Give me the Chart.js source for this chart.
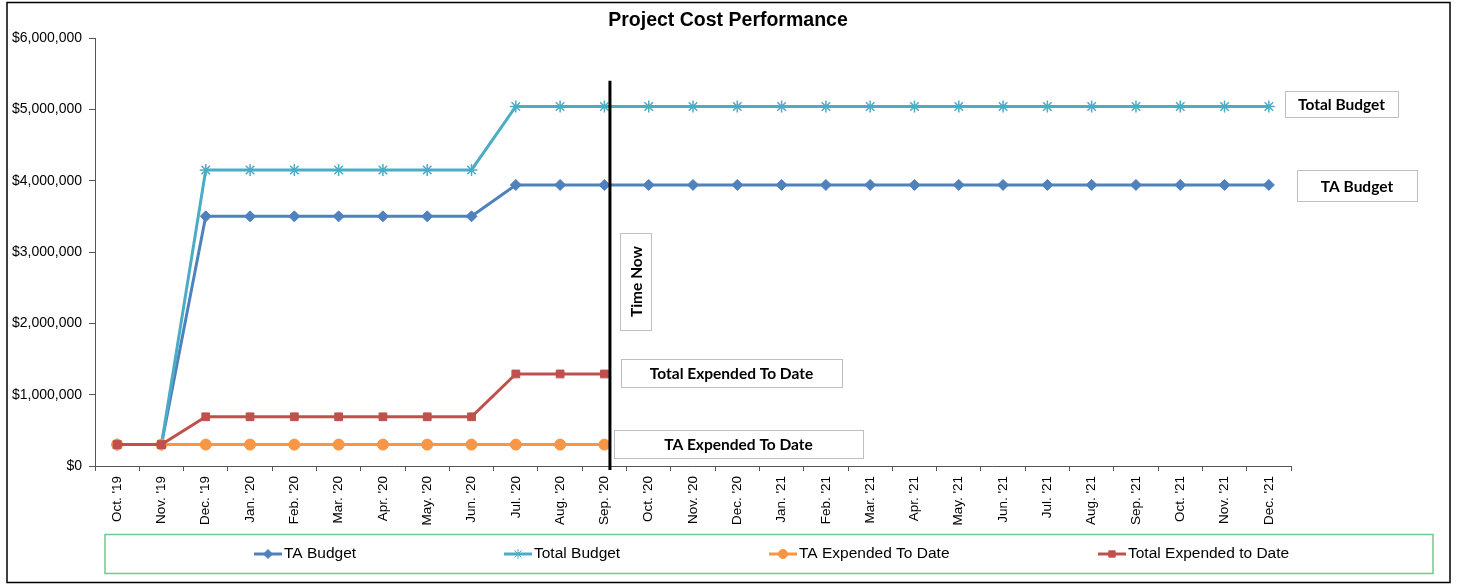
<!DOCTYPE html>
<html><head><meta charset="utf-8">
<script src="https://cdn.jsdelivr.net/npm/chart.js@4.4.1/dist/chart.umd.min.js"></script>
<style>html,body{margin:0;padding:0;background:#fff;}#wrap{width:1458px;height:584px;position:relative;}</style>
</head><body><div id="wrap"><canvas id="c" width="1458" height="584"></canvas></div>
<script>
// ---------- DATA ----------
const chartTitle = 'Project Cost Performance';
const categories = ["Oct. '19","Nov. '19","Dec. '19","Jan. '20","Feb. '20","Mar. '20","Apr. '20","May. '20","Jun. '20","Jul. '20","Aug. '20","Sep. '20","Oct. '20","Nov. '20","Dec. '20","Jan. '21","Feb. '21","Mar. '21","Apr. '21","May. '21","Jun. '21","Jul. '21","Aug. '21","Sep. '21","Oct. '21","Nov. '21","Dec. '21"];
const seriesNames = ['TA Budget','Total Budget','TA Expended To Date','Total Expended to Date'];
const taBudget = [300000,300000,3500000,3500000,3500000,3500000,3500000,3500000,3500000,3940000,3940000,3940000,3940000,3940000,3940000,3940000,3940000,3940000,3940000,3940000,3940000,3940000,3940000,3940000,3940000,3940000,3940000];
const totalBudget = [300000,300000,4150000,4150000,4150000,4150000,4150000,4150000,4150000,5040000,5040000,5040000,5040000,5040000,5040000,5040000,5040000,5040000,5040000,5040000,5040000,5040000,5040000,5040000,5040000,5040000,5040000];
const taExpended = [300000,300000,300000,300000,300000,300000,300000,300000,300000,300000,300000,300000,null,null,null,null,null,null,null,null,null,null,null,null,null,null,null];
const totalExpended = [300000,300000,690000,690000,690000,690000,690000,690000,690000,1290000,1290000,1290000,null,null,null,null,null,null,null,null,null,null,null,null,null,null,null];
const yMin = 0, yMax = 6000000, yStep = 1000000;
const timeNowIndex = 11.125;
const timeNowTop = 5400000;
const annotationTexts = ['Total Budget','TA Budget','Time Now','Total Expended To Date','TA Expended To Date'];

// ---------- STYLE / LAYOUT ----------
const colors = ['#4F81BD','#4BACC6','#F79646','#C0504D'];
const pointStyles = ['rectRot','star','circle','rect'];
const pointRadii = [5.5,6,5.5,5.5];
const annotationBoxes = [
  {x:1285,y:91,w:113,h:26,rot:false},
  {x:1297,y:170,w:120,h:31,rot:false},
  {x:620,y:233,w:31,h:97,rot:true},
  {x:621,y:359,w:221,h:28,rot:false},
  {x:614,y:430,w:249,h:28,rot:false}
];
const legendItemX = [254,504,769,1098];
const legendY = 554;
const axisFont = '"Liberation Sans", Arial, sans-serif';
const noteFont = 'Lato, "Open Sans", sans-serif';

function drawMarker(ctx, style, r, x, y){
  if (Chart.helpers && Chart.helpers.drawPoint) {
    Chart.helpers.drawPoint(ctx, {pointStyle: style, radius: r, borderWidth: 1, rotation: 0}, x, y);
  }
}

const decor = {
  id: 'decor',
  beforeDraw(chart){
    const ctx = chart.ctx; ctx.save(); ctx.fillStyle = '#fff'; ctx.fillRect(0,0,chart.width,chart.height); ctx.restore();
  },
  afterDraw(chart){
    const ctx = chart.ctx;
    const xs = chart.scales.x, ys = chart.scales.y;
    ctx.save();
    // outer frame
    ctx.strokeStyle = '#000'; ctx.lineWidth = 1.5;
    ctx.strokeRect(7, 2.5, 1443, 580);
    // title
    ctx.fillStyle = '#000';
    ctx.font = 'bold 19.5px ' + axisFont;
    ctx.textAlign = 'center'; ctx.textBaseline = 'middle';
    ctx.fillText(chartTitle, 728, 21);
    // time now line
    const tx = xs.getPixelForValue(timeNowIndex);
    ctx.strokeStyle = '#000'; ctx.lineWidth = 3;
    ctx.beginPath(); ctx.moveTo(tx, ys.getPixelForValue(timeNowTop)); ctx.lineTo(tx, ys.bottom + 4); ctx.stroke();
    // annotation boxes
    annotationBoxes.forEach((b, i) => {
      ctx.fillStyle = '#fff'; ctx.fillRect(b.x, b.y, b.w, b.h);
      ctx.strokeStyle = '#BFBFBF'; ctx.lineWidth = 1;
      ctx.strokeRect(b.x + 0.5, b.y + 0.5, b.w, b.h);
      ctx.fillStyle = '#000';
      ctx.font = 'bold 15.5px ' + noteFont;
      ctx.textAlign = 'center'; ctx.textBaseline = 'middle';
      if (b.rot) {
        ctx.save(); ctx.translate(b.x + b.w/2, b.y + b.h/2); ctx.rotate(-Math.PI/2);
        ctx.fillText(annotationTexts[i], 0, 1); ctx.restore();
      } else {
        ctx.fillText(annotationTexts[i], b.x + b.w/2, b.y + b.h/2 + 1);
      }
    });
    // legend
    ctx.strokeStyle = '#6CCB8F'; ctx.lineWidth = 1.5;
    ctx.strokeRect(105, 534.5, 1328, 39);
    seriesNames.forEach((name, i) => {
      const x0 = legendItemX[i];
      ctx.strokeStyle = colors[i]; ctx.lineWidth = 3;
      ctx.beginPath(); ctx.moveTo(x0, legendY); ctx.lineTo(x0 + 28, legendY); ctx.stroke();
      ctx.fillStyle = colors[i]; ctx.strokeStyle = colors[i]; ctx.lineWidth = 1;
      drawMarker(ctx, pointStyles[i], i === 1 ? 5 : 4.5, x0 + 14, legendY);
      ctx.fillStyle = '#000'; ctx.font = '15.5px ' + axisFont;
      ctx.textAlign = 'left'; ctx.textBaseline = 'middle';
      ctx.fillText(name, x0 + 30, legendY);
    });
    ctx.restore();
  }
};

const seriesData = [taBudget, totalBudget, taExpended, totalExpended];
const datasets = seriesData.map((d, i) => ({
  label: seriesNames[i],
  data: d,
  borderColor: colors[i],
  backgroundColor: colors[i],
  borderWidth: 3,
  pointStyle: pointStyles[i],
  pointRadius: pointRadii[i],
  pointBorderWidth: i === 1 ? 1.5 : 1,
  pointBackgroundColor: colors[i],
  pointBorderColor: colors[i],
  tension: 0,
  spanGaps: false,
  order: 3 - i
}));

new Chart(document.getElementById('c'), {
  type: 'line',
  data: { labels: categories, datasets },
  options: {
    responsive: false, animation: false, devicePixelRatio: 1,
    layout: { padding: { left: 0, right: 167, top: 38, bottom: 0 } },
    plugins: { legend: { display: false }, title: { display: false }, tooltip: { enabled: false } },
    scales: {
      x: {
        offset: true,
        grid: { offset: true, drawOnChartArea: false, drawTicks: true, tickLength: 5, color: '#555' },
        border: { color: '#555', width: 1 },
        ticks: { autoSkip: false, minRotation: 90, maxRotation: 90, color: '#000', padding: 5, font: { family: axisFont, size: 13.5 } },
        afterFit(s){ s.height = 118; }
      },
      y: {
        min: yMin, max: yMax,
        grid: { drawOnChartArea: false, tickLength: 6, color: '#555' },
        border: { color: '#555', width: 1 },
        ticks: { stepSize: yStep, color: '#000', padding: 7, font: { family: axisFont, size: 14 },
          callback: v => '$' + Number(v).toLocaleString('en-US') },
        afterFit(s){ s.width = 95; }
      }
    }
  },
  plugins: [decor]
});
</script></body></html>
